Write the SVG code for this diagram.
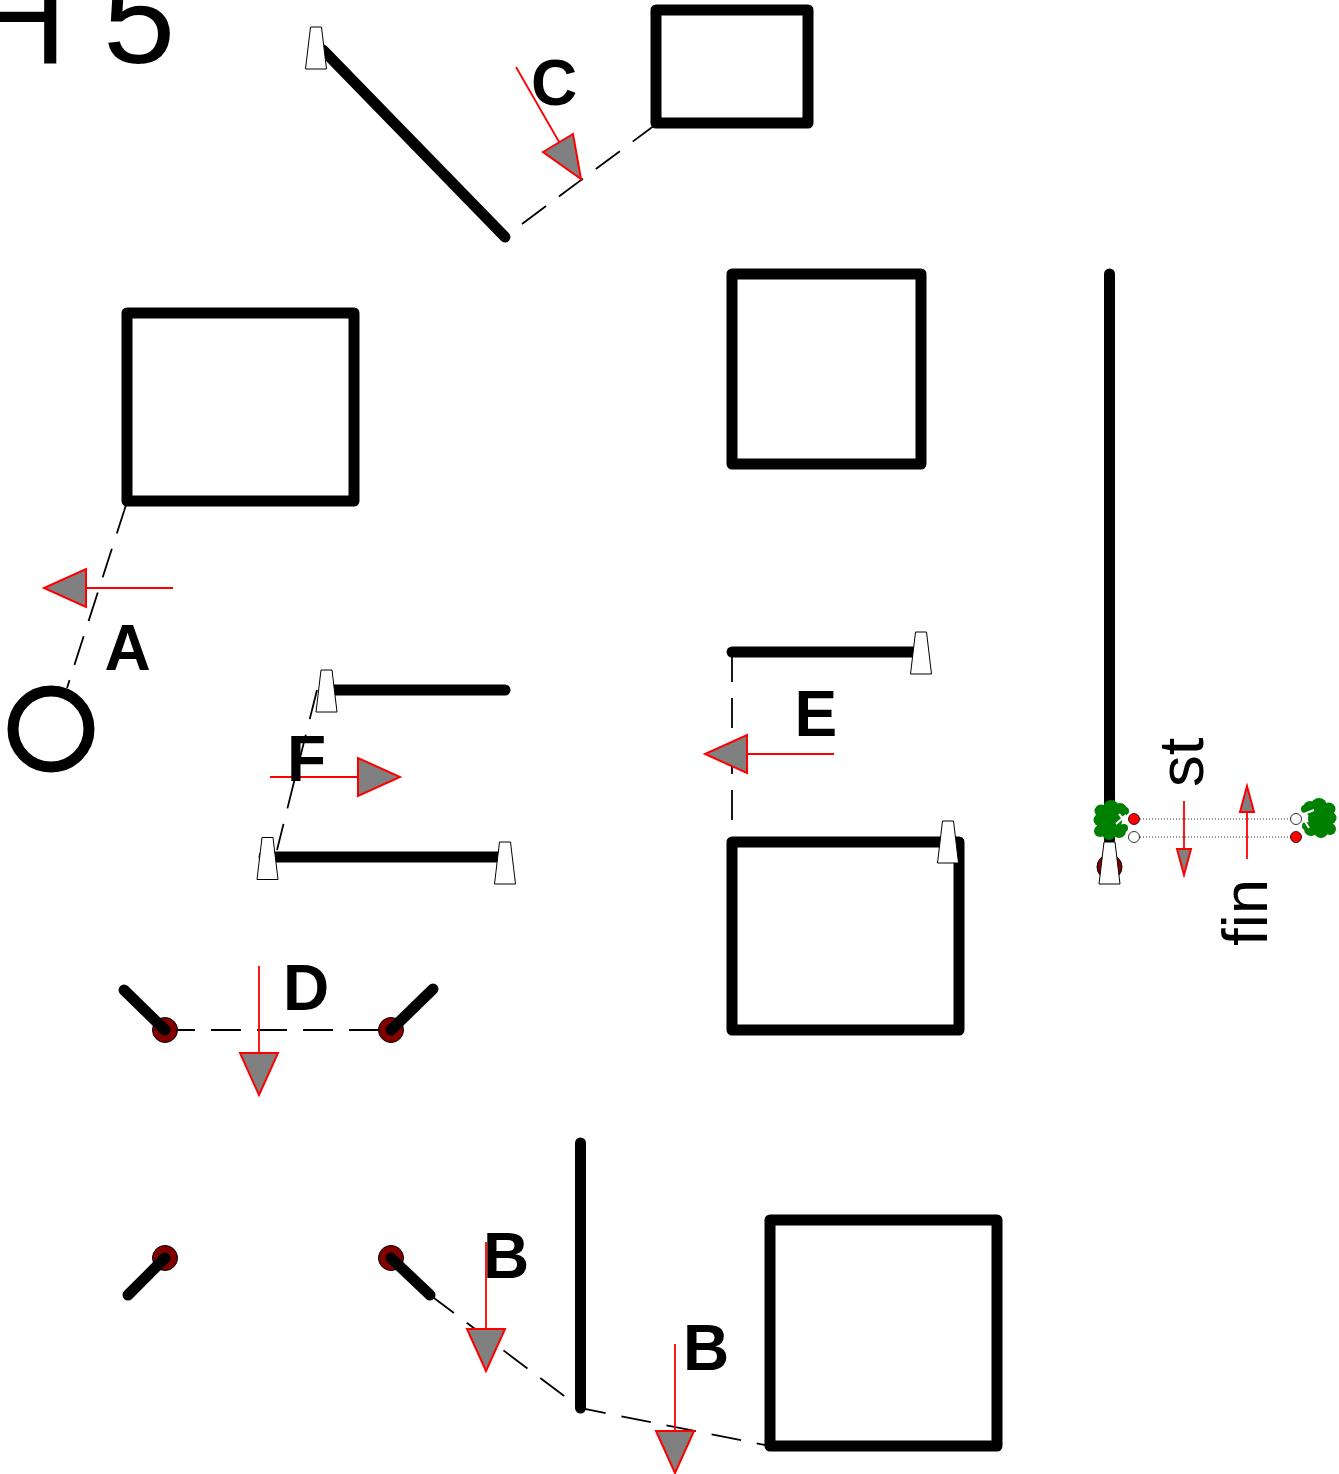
<svg xmlns="http://www.w3.org/2000/svg" width="1339" height="1474" viewBox="0 0 1339 1474">
<style>
.w{fill:none;stroke:#000;stroke-width:11;stroke-linecap:round;stroke-linejoin:round}
.d{fill:none;stroke:#000;stroke-width:1.800;stroke-dasharray:30 16}
.r{fill:none;stroke:#f00;stroke-width:1.800}
.h{fill:#808080;stroke:#f00;stroke-width:2;stroke-linejoin:miter}
.t{fill:#fff;stroke:#000;stroke-width:1}
.p{fill:#800000;stroke:#000;stroke-width:1}
.l{font-family:"Liberation Sans",Arial,sans-serif;font-size:64px;font-weight:bold;fill:#000}
.n{font-family:"Liberation Sans",Arial,sans-serif;font-size:63.500px;fill:#000}
.o{fill:none;stroke:#000;stroke-width:.8;stroke-dasharray:1 2}
.g{fill:#008000}
</style>
<defs>
<path id="tz" d="M-5.500,-21H5.500L10.500,21H-10.500Z"/>
<g id="bush" class="g"><circle cx="-11" cy="-9" r="6.500"/><circle cx="-1" cy="-12" r="8"/><circle cx="8" cy="-10" r="7"/><circle cx="-12" cy="0" r="6.500"/><circle cx="-3" cy="0" r="13"/><circle cx="-12" cy="11" r="6"/><circle cx="-3" cy="13" r="7"/><circle cx="7" cy="11" r="7"/><circle cx="13" cy="-9" r="4"/><circle cx="12" cy="8" r="4"/></g>
</defs>
<text id="title" x="-27" y="63" font-family="Liberation Sans,Arial,sans-serif" font-size="130" fill="#000">H 5</text>
<g id="connectors">
<path class="d" d="M126,505L67,688"/>
<path class="d" d="M522,224L655,125"/>
<path class="d" d="M732,652V822"/>
<path class="d" d="M317,690L277,850"/>
<path class="d" d="M165,1030H391"/>
<path class="d" d="M430,1295L580,1408L770,1446"/>
<path class="o" d="M1134,819H1296M1134,837H1296"/>
</g>
<g id="pivots">
<circle class="p" cx="165" cy="1030" r="12.500"/><circle class="p" cx="391" cy="1030" r="12.500"/>
<circle class="p" cx="165" cy="1258" r="12.500"/><circle class="p" cx="391" cy="1258" r="12.500"/>
<circle class="p" cx="1109.500" cy="867" r="12.500"/><circle class="p" cx="267" cy="857" r="8"/>
</g>
<g id="walls">
<rect class="w" x="656" y="10" width="152" height="113"/>
<rect class="w" x="732" y="274" width="189" height="190"/>
<rect class="w" x="127" y="313" width="227" height="188"/>
<rect class="w" x="732" y="842" width="227" height="188"/>
<rect class="w" x="770" y="1220" width="227" height="226"/>
<circle class="w" cx="51" cy="729" r="38"/>
<path class="w" d="M1109.500,274V840"/>
<path class="w" d="M323,50L505,237"/>
<path class="w" d="M332,690H505"/>
<path class="w" d="M275,857H500"/>
<path class="w" d="M732,652H915"/>
<path class="w" d="M580.500,1143V1408"/>
<path class="w" d="M124,990L165,1030"/>
<path class="w" d="M433,989L391,1030"/>
<path class="w" d="M165,1258L128,1295"/>
<path class="w" d="M391,1258L430,1295"/>
</g>
<g id="caps">
<use href="#tz" class="t" x="316" y="48"/>
<use href="#tz" class="t" x="326.500" y="691"/>
<use href="#tz" class="t" x="267.500" y="858.500"/>
<use href="#tz" class="t" x="505" y="863"/>
<use href="#tz" class="t" x="921" y="653"/>
<use href="#tz" class="t" x="948" y="842"/>
<use href="#tz" class="t" x="1109.500" y="863"/>
</g>
<g id="arrows">
<g id="a-A"><path class="r" d="M173,588H85"/><path class="h" d="M86,569V607L44,588Z"/></g>
<g id="a-C"><path class="r" d="M516,67L562,147"/><path class="h" d="M543,152L573,134L581,179Z"/></g>
<g id="a-F"><path class="r" d="M270,777H358"/><path class="h" d="M358,758V796L400,777Z"/></g>
<g id="a-E"><path class="r" d="M834,754H747"/><path class="h" d="M747,735V773L705,754Z"/></g>
<g id="a-D"><path class="r" d="M259,966V1053"/><path class="h" d="M240,1053H278L259,1095Z"/></g>
<g id="a-B1"><path class="r" d="M486,1242V1329"/><path class="h" d="M467,1329H505L486,1371Z"/></g>
<g id="a-B2"><path class="r" d="M675,1344V1431"/><path class="h" d="M656,1431H694L675,1473Z"/></g>
<g id="a-st"><path class="r" d="M1184,801V849"/><path class="h" d="M1177,849H1191L1184,875Z"/></g>
<g id="a-fin"><path class="r" d="M1247,859V812"/><path class="h" d="M1240,812H1254L1247,786Z"/></g>
</g>
<g id="sensors">
<use href="#bush" x="1112" y="820"/>
<use href="#bush" transform="translate(1318,818) scale(-1,1)"/>
<path d="M1116,824L1126,815M1119,814L1124,820" stroke="#fff" stroke-width="2" fill="none"/>
<path d="M1304,814L1314,810M1304,820L1309,828" stroke="#fff" stroke-width="2" fill="none"/>
<circle cx="1134" cy="819" r="5.500" fill="#f00" stroke="#000" stroke-width=".8"/>
<circle cx="1134" cy="837" r="5.500" fill="#fff" stroke="#000" stroke-width=".8"/>
<circle cx="1296" cy="819" r="5.500" fill="#fff" stroke="#000" stroke-width=".8"/>
<circle cx="1296" cy="837" r="5.500" fill="#f00" stroke="#000" stroke-width=".8"/>
</g>
<g id="labels">
<text class="l" x="104.500" y="670">A</text>
<text class="l" x="531" y="105">C</text>
<text class="l" x="287" y="781">F</text>
<text class="l" x="794.500" y="736">E</text>
<text class="l" x="283" y="1010">D</text>
<text class="l" x="483" y="1278">B</text>
<text class="l" x="683" y="1370">B</text>
<text class="n" transform="translate(1203,787) rotate(-90)">st</text>
<text class="n" transform="translate(1267,946) rotate(-90)">fin</text>
</g>
</svg>
